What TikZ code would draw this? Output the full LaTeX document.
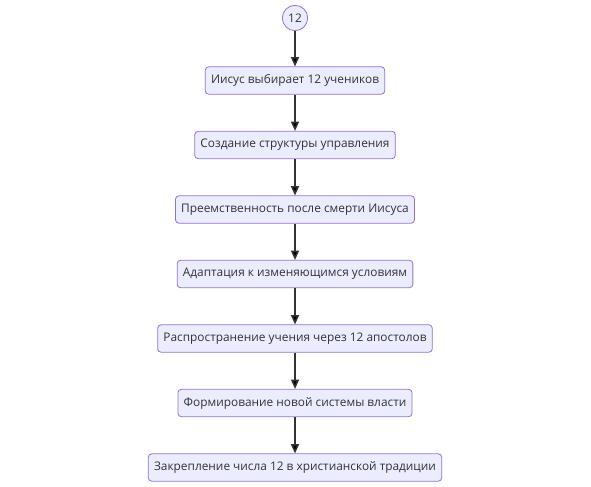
\documentclass[tikz,border=0pt]{standalone}
\usepackage{fontspec}
\setmainfont{Open Sans}
\usetikzlibrary{arrows.meta}
\definecolor{boxfill}{HTML}{ECECFF}
\definecolor{boxline}{HTML}{9370DB}
\definecolor{arrowgray}{HTML}{333333}

\begin{document}
\begin{tikzpicture}[x=0.75pt,y=-0.75pt,>/.tip={Triangle[length=7pt,width=6pt]},
  step box/.style={draw=boxline,fill=boxfill,rounded corners=2.5pt,line width=0.6pt,
    minimum height=20.5pt,inner xsep=4.3pt,font=\fontsize{8.9pt}{11pt}\selectfont,text=black!80},
  start circle/.style={draw=boxline,fill=boxfill,shape=circle,line width=0.6pt,
    minimum size=19pt,inner sep=0pt,font=\fontsize{8.9pt}{11pt}\selectfont,text=black!80},
  flow/.style={draw=arrowgray,line width=1.1pt}]
\useasboundingbox (0,0) rectangle (591,486);

\draw (295,18)    node (start) [start circle] {12};
\draw (295,80.5)  node (s1) [step box] {Иисус выбирает 12 учеников};
\draw (295,145)   node (s2) [step box] {Создание структуры управления};
\draw (295,209.5) node (s3) [step box] {Преемственность после смерти Иисуса};
\draw (295,274)   node (s4) [step box] {Адаптация к изменяющимся условиям};
\draw (295,338.5) node (s5) [step box] {Распространение учения через 12 апостолов};
\draw (295,403)   node (s6) [step box] {Формирование новой системы власти};
\draw (295,467.5) node (s7) [step box] {Закрепление числа 12 в христианской традиции};

\draw[->,flow] (start) edge (s1);
\draw[->,flow] (s1) edge (s2);
\draw[->,flow] (s2) edge (s3);
\draw[->,flow] (s3) edge (s4);
\draw[->,flow] (s4) edge (s5);
\draw[->,flow] (s5) edge (s6);
\draw[->,flow] (s6) edge (s7);

\end{tikzpicture}
\end{document}
